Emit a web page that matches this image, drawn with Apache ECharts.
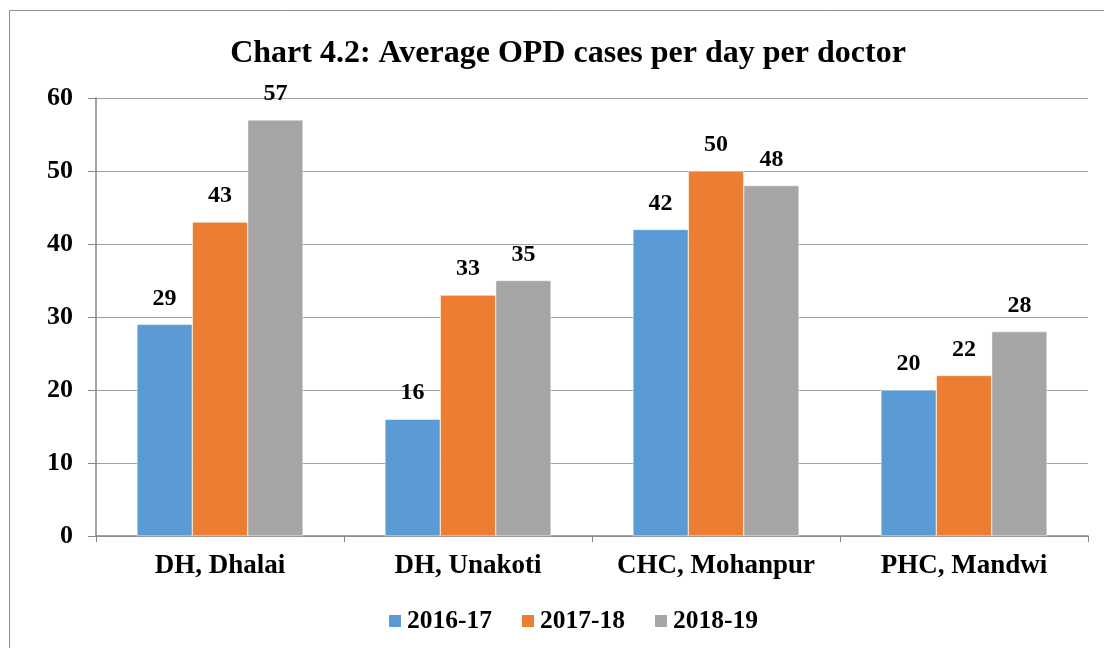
<!DOCTYPE html>
<html><head><meta charset="utf-8">
<script src="https://cdn.jsdelivr.net/npm/echarts@6/dist/echarts.min.js"></script>
<style>html,body{margin:0;padding:0;background:#fff}#c{width:1104px;height:648px}</style>
</head><body><div id="c"></div>
<script>
const categories = ["DH, Dhalai", "DH, Unakoti", "CHC, Mohanpur", "PHC, Mandwi"];
const seriesNames = ["2016-17", "2017-18", "2018-19"];
const v2016 = [29, 16, 42, 20];
const v2017 = [43, 33, 50, 22];
const v2018 = [57, 35, 48, 28];
const colors = ["#5B9BD5", "#ED7D31", "#A5A5A5"];
const font = "'Liberation Serif', 'Times New Roman', serif";
const chart = echarts.init(document.getElementById('c'));
const mk = (name, data, color) => ({
  name, type: 'bar', data, barGap: '0%', barCategoryGap: '33%',
  itemStyle: {color, borderColor: '#fff', borderWidth: 0.5},
  label: {show: true, position: 'top', distance: 14, color: '#000', fontFamily: font, fontWeight: 'bold', fontSize: 24}
});
chart.setOption({
  animation: false,
  textStyle: {fontFamily: font},
  title: {text: 'Chart 4.2: Average OPD cases per day per doctor', left: 563, top: 33, textAlign: 'center',
    textStyle: {fontFamily: font, fontWeight: 'bold', fontSize: 32, color: '#000'}},
  graphic: [{type: 'rect', shape: {x: 9.5, y: 10.5, width: 1110, height: 660}, style: {fill: 'none', stroke: '#8c8c8c', lineWidth: 1}}],
  legend: {data: seriesNames, left: 382, top: 603, itemWidth: 14, itemHeight: 14, itemGap: 28, icon: 'rect',
    textStyle: {fontFamily: font, fontWeight: 'bold', fontSize: 25.5, color: '#000'}},
  grid: {left: 96, right: 16, top: 98, bottom: 112, containLabel: false},
  xAxis: {type: 'category', data: categories,
    axisLine: {lineStyle: {color: '#868686', width: 1.5}},
    axisTick: {show: true, interval: 0, length: 6, lineStyle: {color: '#868686'}},
    axisLabel: {interval: 0, fontFamily: font, fontWeight: 'bold', fontSize: 27, color: '#000', margin: 17}},
  yAxis: {type: 'value', min: 0, max: 60, interval: 10,
    axisLine: {show: true, lineStyle: {color: '#868686', width: 1.5}},
    axisTick: {show: true, length: 8, lineStyle: {color: '#868686'}},
    splitLine: {lineStyle: {color: '#a0a0a0', width: 1}},
    axisLabel: {fontFamily: font, fontWeight: 'bold', fontSize: 26, color: '#000', margin: 23}},
  series: [mk(seriesNames[0], v2016, colors[0]), mk(seriesNames[1], v2017, colors[1]), mk(seriesNames[2], v2018, colors[2])]
});
</script></body></html>
